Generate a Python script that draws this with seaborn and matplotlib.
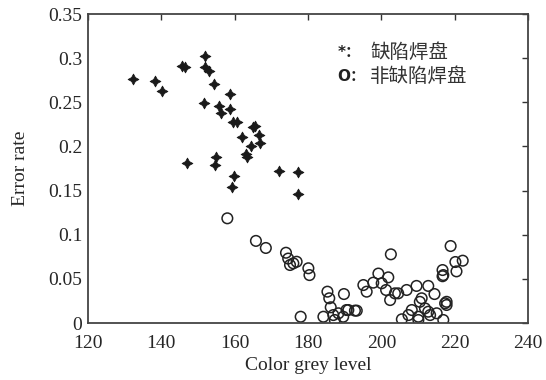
import matplotlib
matplotlib.use("Agg")
import matplotlib.pyplot as plt
import seaborn as sns
import pandas as pd

defect_x = [132.4, 138.3, 140.3, 145.6, 146.4, 152.0, 152.0, 153.1, 154.4, 151.7, 155.6,
            156.4, 158.7, 158.7, 159.6, 160.5, 161.9, 164.9, 165.5, 166.7, 164.5, 166.9,
            163.1, 163.4, 146.9, 154.9, 154.7, 159.9, 159.3, 172.0, 177.3, 177.3]
defect_y = [0.276, 0.274, 0.263, 0.291, 0.290, 0.302, 0.290, 0.285, 0.271, 0.249, 0.246,
            0.238, 0.259, 0.242, 0.228, 0.228, 0.211, 0.222, 0.223, 0.213, 0.200, 0.204,
            0.191, 0.188, 0.181, 0.188, 0.179, 0.166, 0.154, 0.172, 0.171, 0.146]

good_x = [158.0, 165.8, 168.5, 174.0, 174.6, 176.0, 176.9, 175.1, 180.1, 180.4, 178.0,
          184.2, 185.3, 185.8, 189.8, 186.2, 186.9, 188.3, 190.5, 193.3, 189.6, 187.3,
          195.1, 196.0, 197.8, 199.2, 201.9, 200.1, 201.3, 202.4, 203.7, 202.6,
          218.9, 220.2, 222.2, 220.5, 216.7, 216.7, 216.9,
          204.6, 206.9, 209.6, 212.8, 214.5, 211.0, 210.5, 217.8, 217.8, 217.4,
          208.3, 207.4, 205.6, 210.1, 212.8, 215.1, 216.9, 210.1, 211.9, 213.3, 192.8, 191.0]
good_y = [0.1186, 0.093, 0.085, 0.0796, 0.073, 0.0676, 0.0694, 0.0657, 0.062, 0.0543, 0.0071,
          0.0071, 0.0355, 0.028, 0.0328, 0.0178, 0.009, 0.011, 0.0147, 0.014, 0.0071, 0.0034,
          0.043, 0.0355, 0.0457, 0.056, 0.0517, 0.045, 0.0374, 0.026, 0.0336, 0.0778,
          0.0872, 0.0691, 0.0706, 0.0585, 0.060, 0.053, 0.0543,
          0.0336, 0.0374, 0.042, 0.042, 0.0328, 0.028, 0.024, 0.024, 0.0204, 0.0223,
          0.0147, 0.009, 0.0042, 0.0071, 0.0128, 0.011, 0.0034, 0.0034, 0.0166, 0.009, 0.0140, 0.0147]

x_ticks = [120, 140, 160, 180, 200, 220, 240]
y_ticks = [0, 0.05, 0.1, 0.15, 0.2, 0.25, 0.3, 0.35]
y_tick_labels = ["0", "0.05", "0.1", "0.15", "0.2", "0.25", "0.3", "0.35"]
legend_marks = ["*：", "O："]
legend_texts = ["缺陷焊盘", "非缺陷焊盘"]
x_label = "Color grey level"
y_label = "Error rate"

sns.set_style("white")
plt.rcParams["font.family"] = ["Liberation Serif", "DejaVu Serif"]

df_def = pd.DataFrame({"x": defect_x, "y": defect_y})
df_good = pd.DataFrame({"x": good_x, "y": good_y})

fig = plt.figure(figsize=(5.46, 3.80), dpi=100)
ax = fig.add_axes([0.1612, 0.15, 0.8058, 0.813])

sns.scatterplot(data=df_good, x="x", y="y", ax=ax, marker="o", s=58,
                facecolors="none", edgecolor="#222222", linewidth=1.1)
sns.scatterplot(data=df_def, x="x", y="y", ax=ax, marker=(4, 1, 0), s=60,
                color="#1a1a1a", edgecolor="#1a1a1a", linewidth=0.6)

ax.set_xlim(120, 240)
ax.set_ylim(0, 0.35)
ax.set_xticks(x_ticks)
ax.set_yticks(y_ticks)
ax.set_yticklabels(y_tick_labels)
ax.tick_params(direction="in", top=True, right=True, length=4, width=1.0,
               labelsize=14, color="#333333")
ax.tick_params(axis="x", pad=9)
ax.tick_params(axis="y", pad=4)
for sp in ax.spines.values():
    sp.set_color("#444444")
    sp.set_linewidth(1.3)
ax.set_xlabel(x_label, fontsize=14, labelpad=3)
ax.set_ylabel(y_label, fontsize=14, labelpad=14)

cjk = ["Noto Sans CJK SC", "DejaVu Sans"]
mark_fam = ["DejaVu Sans", "Noto Sans CJK SC"]
ys = [0.306, 0.279]
for m, t, yy in zip(legend_marks, legend_texts, ys):
    ax.text(188.0, yy, m, fontsize=11, fontweight="bold", family=mark_fam,
            va="center", ha="left", color="#222222")
    ax.text(197.0, yy, t, fontsize=14, family=cjk, va="center", ha="left", color="#333333")

fig.savefig("out.png", dpi=100)
